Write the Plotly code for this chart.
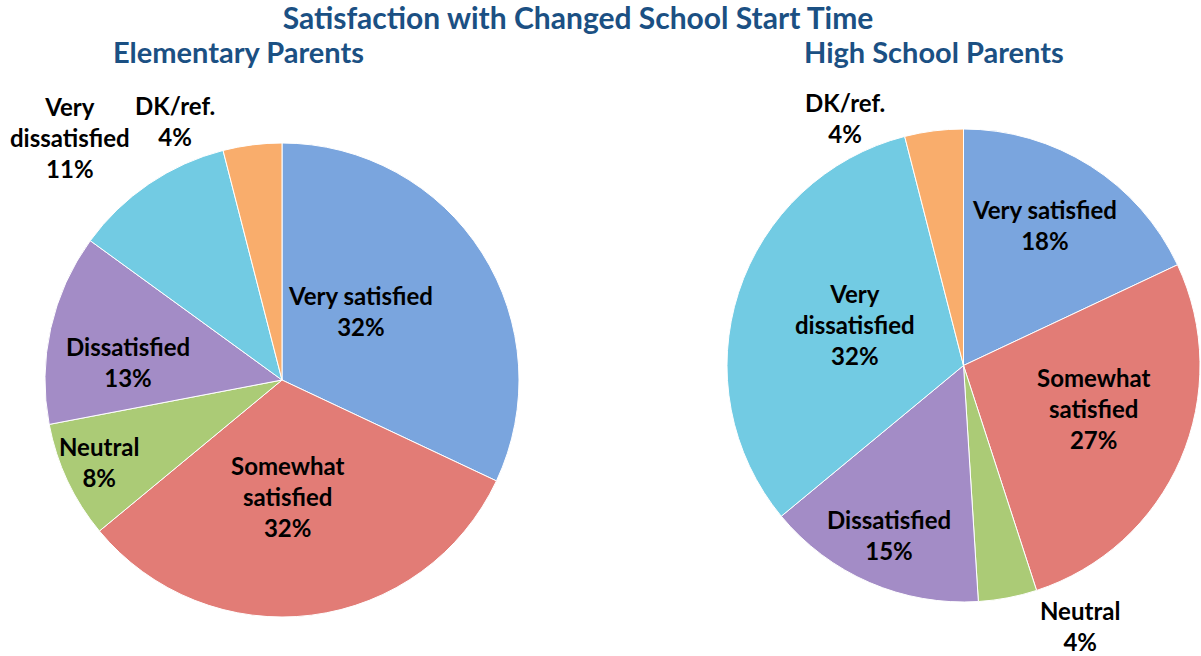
import plotly.graph_objects as go

categories = ["Very satisfied", "Somewhat satisfied", "Neutral", "Dissatisfied",
              "Very dissatisfied", "DK/ref."]
elementary = [32, 32, 8, 13, 11, 4]
high_school = [18, 27, 4, 15, 32, 4]

colors = ["#7aa5de", "#e27c76", "#abcb76", "#a38cc6", "#72cbe3", "#f9ad6c"]

# label text with the line breaks used in the original chart
label_lines = ["Very satisfied", "Somewhat<br>satisfied", "Neutral", "Dissatisfied",
               "Very<br>dissatisfied", "DK/ref."]

# label centres in pixels (x from left, y from top), one per slice
W, H = 1201, 656
lab_xy_elem = [(360, 311), (287, 497), (99, 462), (128, 362), (70, 137), (175, 121)]
lab_xy_hs = [(1044, 225), (1093, 408), (1080, 626), (889, 535), (855, 325), (845, 118)]

title_color = "#1b5083"
title_font = dict(family="Lato", size=30, color=title_color)
sub_font = dict(family="Lato", size=29, color=title_color)
label_font = dict(family="Lato", size=24, color="black")

fig = go.Figure()

fig.add_trace(go.Pie(
    labels=categories, values=elementary, textinfo="none",
    sort=False, direction="clockwise", rotation=0,
    marker=dict(colors=colors, line=dict(color="white", width=1)),
    domain=dict(x=[45 / W, 519 / W], y=[1 - 618 / H, 1 - 142 / H]),
    showlegend=False, hoverinfo="label+percent",
))

fig.add_trace(go.Pie(
    labels=categories, values=high_school, textinfo="none",
    sort=False, direction="clockwise", rotation=0,
    marker=dict(colors=colors, line=dict(color="white", width=1)),
    domain=dict(x=[727 / W, 1200 / W], y=[1 - 602 / H, 1 - 129 / H]),
    showlegend=False, hoverinfo="label+percent",
))

annotations = [
    dict(text="<b>Elementary Parents</b>", x=238 / W, y=1 - 52 / H),
    dict(text="<b>High School Parents</b>", x=934 / W, y=1 - 52 / H),
]
for a in annotations:
    a.update(xref="paper", yref="paper", showarrow=False, font=sub_font,
             xanchor="center", yanchor="middle")

for vals, xy in [(elementary, lab_xy_elem), (high_school, lab_xy_hs)]:
    for txt, v, (px_, py_) in zip(label_lines, vals, xy):
        annotations.append(dict(
            text=f"<b>{txt}<br>{v}%</b>", x=px_ / W, y=1 - py_ / H,
            xref="paper", yref="paper", showarrow=False, font=label_font,
            xanchor="center", yanchor="middle", align="center"))

fig.update_layout(
    width=W, height=H,
    margin=dict(l=0, r=0, t=0, b=0),
    paper_bgcolor="white",
    title=dict(text="<b>Satisfaction with Changed School Start Time</b>",
               x=578 / W, xanchor="center", y=1 - 18 / H, yanchor="middle",
               font=title_font),
    annotations=annotations,
)

fig.write_html("out.html", config={"displayModeBar": False},
               post_script="document.body.style.margin='0';")
